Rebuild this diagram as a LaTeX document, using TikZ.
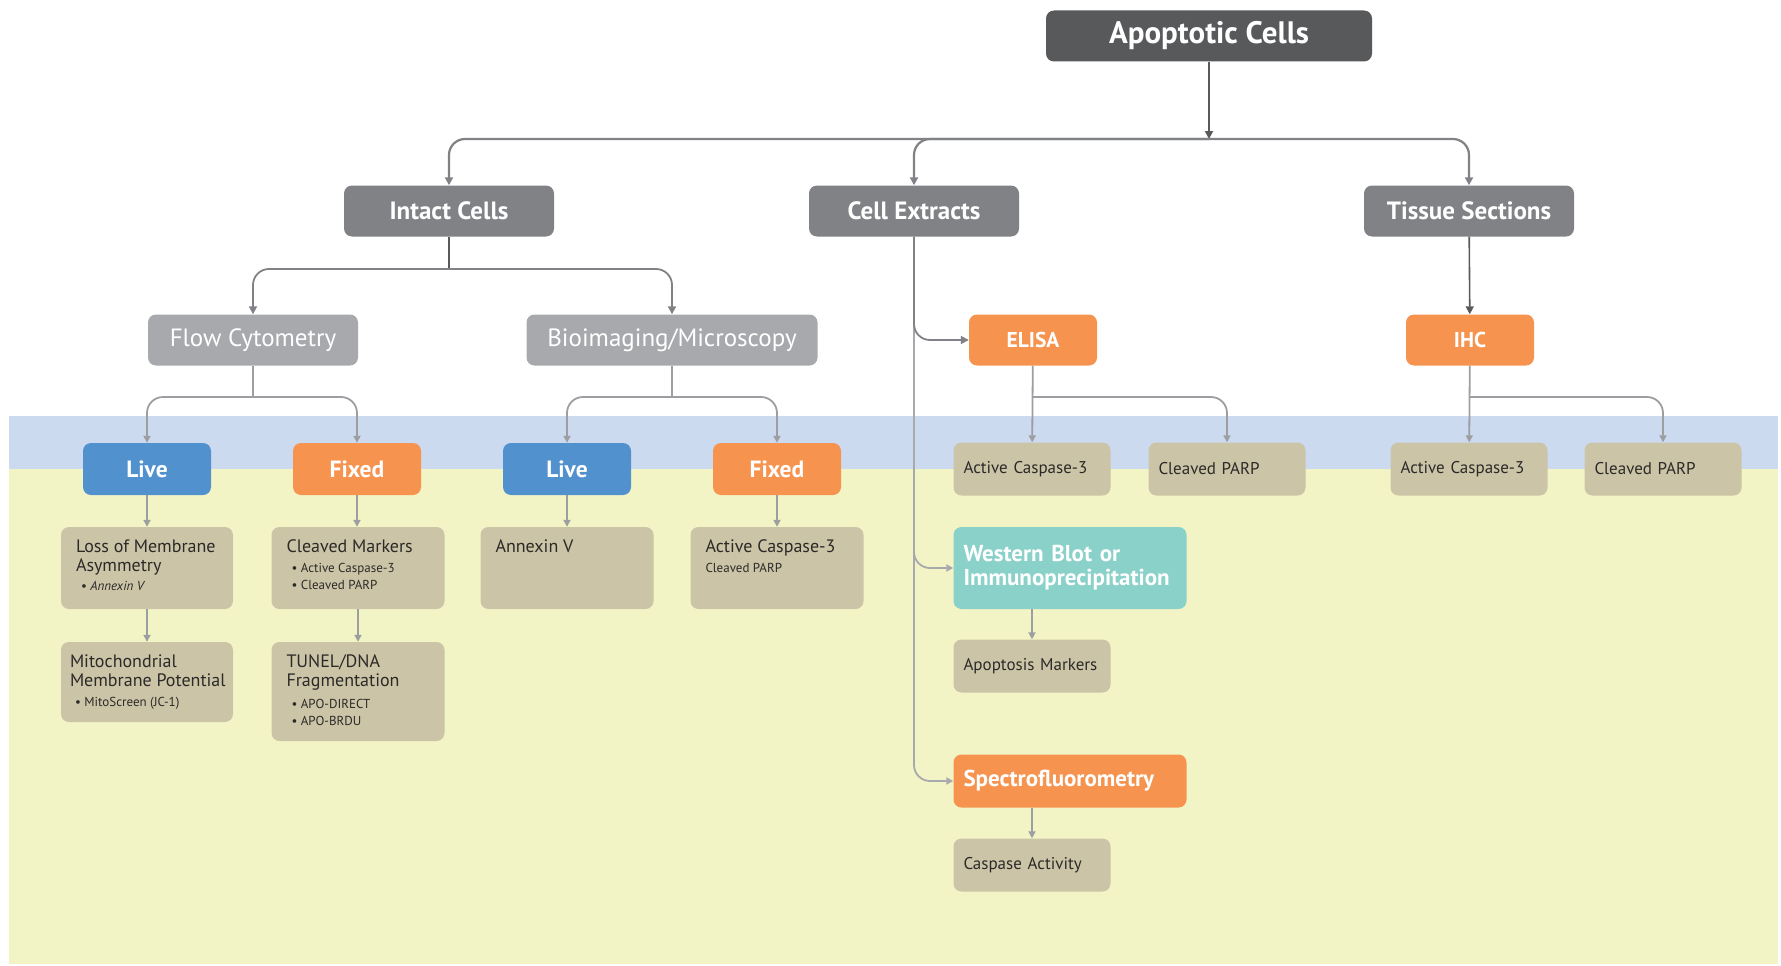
\documentclass[tikz,border=0pt]{standalone}
\usepackage{fontspec}
\setmainfont{PT Sans}
\usetikzlibrary{arrows.meta}
\definecolor{dkgray}{HTML}{58595B}
\definecolor{mdgray}{HTML}{808285}
\definecolor{ltgray}{HTML}{A7A9AC}
\definecolor{linegray}{HTML}{9C9EA1}
\definecolor{orng}{HTML}{F6944F}
\definecolor{blu}{HTML}{5091CE}
\definecolor{tealbox}{HTML}{8AD1C9}
\definecolor{tanc}{HTML}{CCC4A6}
\definecolor{bgyel}{HTML}{F3F4C5}
\definecolor{bgblue}{HTML}{CCDAF0}
\definecolor{txt}{HTML}{2B2A29}
\newcommand\subb[1]{{\fontsize{13}{14}\selectfont\hspace*{5pt}\textbullet\ #1}}
\newcommand\tanfont{\fontsize{18}{19}\selectfont}
\begin{document}
\begin{tikzpicture}[x=1pt,y=-1pt,
  bx/.style={rounded corners=8pt, inner sep=0pt, align=center, text=white},
  apobox/.style={bx, fill=dkgray, minimum width=326, minimum height=51, font=\bfseries\fontsize{31}{34}\selectfont},
  hdr/.style={bx, fill=mdgray, minimum width=210, minimum height=51, font=\bfseries\fontsize{25}{28}\selectfont},
  sub/.style={bx, fill=ltgray, minimum height=51, font=\fontsize{25}{28}\selectfont},
  meth/.style={bx, fill=orng, minimum width=128, minimum height=51, font=\bfseries\fontsize{21.5}{24}\selectfont},
  livebox/.style={bx, fill=blu, minimum width=128, minimum height=52, font=\bfseries\fontsize{23.5}{26}\selectfont},
  fixbox/.style={bx, fill=orng, minimum width=128, minimum height=52, font=\bfseries\fontsize{23.5}{26}\selectfont},
  wide/.style={bx, align=left, minimum width=233, inner xsep=10pt, text width=213pt, font=\bfseries\fontsize{23}{24}\selectfont},
  tanC/.style={rounded corners=8pt, fill=tanc, text=txt, inner xsep=10pt, inner ysep=0pt, text width=137pt, minimum height=53, align=left, font=\fontsize{17}{18}\selectfont},
  tanT/.style={rounded corners=8pt, fill=tanc, text=txt, inner xsep=15pt, inner ysep=13pt, font=\tanfont},
  c1/.style={draw=dkgray, line width=1.8pt, -{Triangle[length=8pt,width=8pt]}},
  c2/.style={draw=mdgray, line width=2.2pt, rounded corners=16pt, -{Triangle[length=8pt,width=8pt]}},
  c3/.style={draw=linegray, line width=1.8pt, rounded corners=16pt, -{Triangle[length=7pt,width=7pt]}}
]
\useasboundingbox (0,0) rectangle (1781,966);
\fill[bgblue] (9,416) rectangle (1778,469);
\fill[bgyel] (9,469) rectangle (1778,964);

% top levels
\node[apobox] (apo) at (1209,36) {Apoptotic Cells};
\node[hdr] (intact) at (449,211) {Intact Cells};
\node[hdr] (cellx) at (914,211) {Cell Extracts};
\node[hdr] (tissue) at (1469,211) {Tissue Sections};

\node[sub, minimum width=210] (flow) at (253,340) {Flow Cytometry};
\node[sub, minimum width=291] (bio) at (672,340) {Bioimaging/Microscopy};
\node[meth] (elisa) at (1033,340) {ELISA};
\node[meth] (ihc) at (1470,340) {IHC};

\node[livebox] (live1) at (147,469) {Live};
\node[fixbox] (fixed1) at (357,469) {Fixed};
\node[livebox] (live2) at (567,469) {Live};
\node[fixbox] (fixed2) at (777,469) {Fixed};

\node[tanC] (ace1) at (1032,469) {Active Caspase-3};
\node[tanC] (cp1) at (1227,469) {Cleaved PARP};
\node[tanC] (ace2) at (1469,469) {Active Caspase-3};
\node[tanC] (cp2) at (1663,469) {Cleaved PARP};

\node[tanT] (loss) at (147,568) {\parbox[c][56pt][t]{142pt}{\raggedright Loss of Membrane\\Asymmetry\\[0pt]\subb{\itshape Annexin V}}};
\node[tanT] (cleaved) at (358,568) {\parbox[c][56pt][t]{143pt}{\raggedright Cleaved Markers\\[1pt]\subb{Active Caspase-3}\\[-2pt]\subb{Cleaved PARP}}};
\node[tanT] (annexin) at (567,568) {\parbox[c][56pt][t]{143pt}{\raggedright Annexin V}};
\node[tanT] (actc) at (777,568) {\parbox[c][56pt][t]{143pt}{\raggedright Active Caspase-3\\[1pt]{\fontsize{13}{14}\selectfont Cleaved PARP}}};
\node[tanT, inner xsep=9pt] (mito) at (147,682) {\parbox[c][54pt][t]{154pt}{\raggedright Mitochondrial\\\mbox{Membrane Potential}\\[1pt]\subb{MitoScreen (JC-1)}}};
\node[tanT] (tunel) at (358,691.5) {\parbox[c][73pt][t]{143pt}{\raggedright TUNEL/DNA\\Fragmentation\\[3pt]\subb{APO-DIRECT}\\[-2pt]\subb{APO-BRDU}}};

\node[wide, fill=tealbox, minimum height=82] (wb) at (1070,568) {Western Blot or\\Immunoprecipitation};
\node[tanC] (apm) at (1032,666) {Apoptosis Markers};
\node[wide, fill=orng, minimum height=53] (spec) at (1070,781) {Spectrofluorometry};
\node[tanC] (casact) at (1032,865) {Caspase Activity};

% junctions
\coordinate (j0) at (1209,139);
\coordinate (j1) at (449,269);
\coordinate (j2) at (253,397);
\coordinate (j3) at (672,397);
\coordinate (j4) at (1033,397);
\coordinate (j5) at (1470,397);

% connectors
\draw[c1] (apo) -- (j0);
\draw[c2] (j0) -| (intact);
\draw[c2] (j0) -| (cellx);
\draw[c2] (j0) -| (tissue);

\draw[c1, line width=1.6pt, -] (intact) -- (j1);
\draw[c2, line width=1.8pt] (j1) -| (flow);
\draw[c2, line width=1.8pt] (j1) -| (bio);

\draw[c1, line width=1.6pt] (tissue) -- (ihc);

\draw[c3, draw=ltgray] (cellx) |- (spec);
\draw[c3, draw=ltgray] (cellx) |- (wb);
\draw[c2, line width=1.8pt] (cellx) |- (elisa);

\draw[c3, -] (flow) -- (j2);
\draw[c3] (j2) -| (live1);
\draw[c3] (j2) -| (fixed1);
\draw[c3, -] (bio) -- (j3);
\draw[c3] (j3) -| (live2);
\draw[c3] (j3) -| (fixed2);
\draw[c3] (elisa) -- (ace1);
\draw[c3] (j4) -| (cp1);
\draw[c3] (ihc) -- (ace2);
\draw[c3] (j5) -| (cp2);

\draw[c3] (live1.south) -- (live1.south |- loss.north);
\draw[c3] (loss.south) -- (loss.south |- mito.north);
\draw[c3] (fixed1.south) -- (fixed1.south |- cleaved.north);
\draw[c3] (cleaved.south) -- (cleaved.south |- tunel.north);
\draw[c3] (live2.south) -- (live2.south |- annexin.north);
\draw[c3] (fixed2.south) -- (fixed2.south |- actc.north);
\draw[c3] (wb.south -| apm.north) -- (apm.north);
\draw[c3] (spec.south -| casact.north) -- (casact.north);
\end{tikzpicture}
\end{document}
